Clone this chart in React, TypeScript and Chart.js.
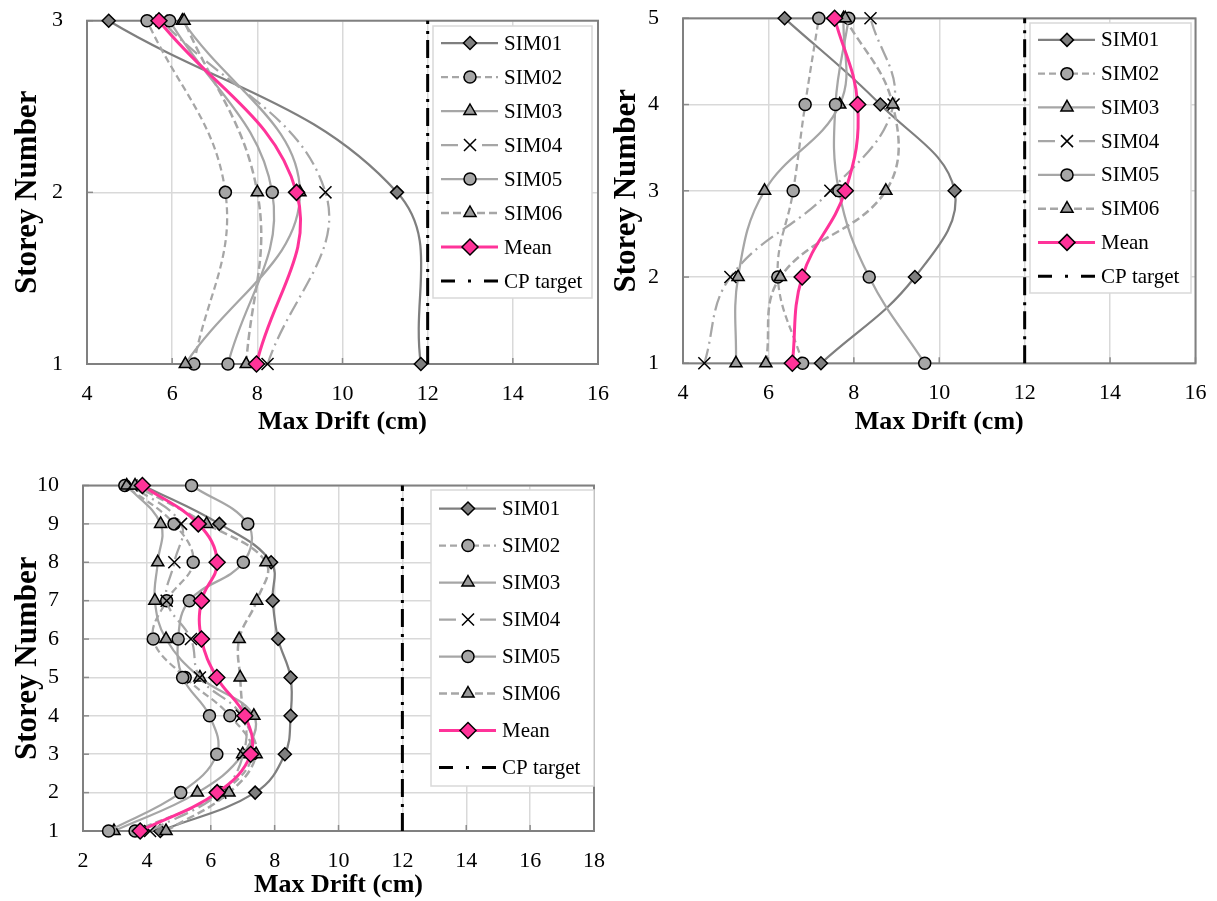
import React, { useEffect, useRef } from 'react';
import { Chart, registerables } from 'chart.js';

Chart.register(...registerables);

// ---------- shared labels ----------
const SERIES_NAMES = ['SIM01', 'SIM02', 'SIM03', 'SIM04', 'SIM05', 'SIM06', 'Mean', 'CP target'];
const X_TITLE = 'Max Drift (cm)';
const Y_TITLE = 'Storey Number';
const CP_TARGET = 12;

// ---------- panel 1 : 3 storeys ----------
const p1Storeys = [1, 2, 3];
const p1XRange = [4, 16];
const p1Sim01 = [11.84, 11.28, 4.51];
const p1Sim02 = [6.51, 7.25, 5.41];
const p1Sim03 = [6.31, 9.0, 6.24];
const p1Sim04 = [8.24, 9.6, 5.75];
const p1Sim05 = [7.31, 8.35, 5.94];
const p1Sim06 = [7.74, 8.0, 6.28];
const p1Mean = [7.98, 8.92, 5.69];

// ---------- panel 2 : 5 storeys ----------
const p2Storeys = [1, 2, 3, 4, 5];
const p2XRange = [4, 16];
const p2Sim01 = [7.23, 9.43, 10.36, 8.62, 6.38];
const p2Sim02 = [6.8, 6.22, 6.58, 6.86, 7.18];
const p2Sim03 = [5.24, 5.29, 5.91, 7.67, 7.76];
const p2Sim04 = [4.5, 5.11, 7.45, 8.93, 8.39];
const p2Sim05 = [9.66, 8.36, 7.65, 7.57, 7.88];
const p2Sim06 = [5.94, 6.28, 8.75, 8.91, 7.8];
const p2Mean = [6.56, 6.79, 7.8, 8.09, 7.55];

// ---------- panel 3 : 10 storeys ----------
const p3Storeys = [1, 2, 3, 4, 5, 6, 7, 8, 9, 10];
const p3XRange = [2, 18];
const p3Sim01 = [4.42, 7.39, 8.32, 8.5, 8.5, 8.11, 7.94, 7.89, 6.27, 3.88];
const p3Sim02 = [3.63, 6.3, 7.3, 6.6, 5.2, 4.2, 4.62, 5.45, 4.85, 3.31];
const p3Sim03 = [2.97, 5.58, 7.0, 7.35, 5.66, 4.6, 4.25, 4.34, 4.43, 3.37];
const p3Sim04 = [4.1, 6.3, 7.02, 6.97, 5.66, 5.38, 4.62, 4.86, 5.07, 3.52];
const p3Sim05 = [2.8, 5.06, 6.19, 5.96, 5.12, 4.98, 5.33, 7.02, 7.16, 5.4];
const p3Sim06 = [4.6, 6.57, 7.42, 7.05, 6.92, 6.89, 7.44, 7.73, 5.87, 3.63];
const p3Mean = [3.79, 6.2, 7.25, 7.07, 6.19, 5.71, 5.71, 6.2, 5.61, 3.86];

// ---------- styles ----------
const FONT = '"Liberation Serif", "Times New Roman", Times, serif';
const TENSION = 0.4;

type Style = {
  color: string;
  width: number;
  dash: number[];
  legendDash?: number[];
  point: string | false;
  radius: number;
  fill: string;
};

const STYLES: Style[] = [
  { color: '#7f7f7f', width: 2.25, dash: [], point: 'rectRot', radius: 6.5, fill: '#7f7f7f' },
  { color: '#a6a6a6', width: 2.25, dash: [7, 4], point: 'circle', radius: 6, fill: '#a6a6a6' },
  { color: '#a6a6a6', width: 2.25, dash: [], point: 'triangle', radius: 7, fill: '#9a9a9a' },
  { color: '#a6a6a6', width: 2.25, dash: [15, 5, 2, 5], legendDash: [17, 24, 17], point: 'crossRot', radius: 8.5, fill: '#000' },
  { color: '#a6a6a6', width: 2.25, dash: [], point: 'circle', radius: 6, fill: '#a6a6a6' },
  { color: '#a6a6a6', width: 2.5, dash: [8, 4], point: 'triangle', radius: 7, fill: '#9a9a9a' },
  { color: '#ff3399', width: 3, dash: [], point: 'rectRot', radius: 8, fill: '#ff3399' },
  { color: '#000000', width: 3, dash: [18, 6, 3, 7], legendDash: [14, 13, 3, 13, 14], point: false, radius: 0, fill: '#000' },
];

type Panel = {
  left: number; top: number; w: number; h: number;
  padTop: number; padRight: number; yAxisW: number; xAxisH: number;
  xTitlePad: number; yTitlePad: number;
  legend: { x: number; y: number; w: number; h: number };
  storeys: number[];
  xRange: number[];
  series: number[][];
};

const PANELS: Panel[] = [
  {
    left: 0, top: 0, w: 612, h: 445,
    padTop: 20.7, padRight: 14, yAxisW: 87, xAxisH: 81, xTitlePad: 7, yTitlePad: 9.5,
    legend: { x: 433, y: 26, w: 159, h: 272 },
    storeys: p1Storeys, xRange: p1XRange,
    series: [p1Sim01, p1Sim02, p1Sim03, p1Sim04, p1Sim05, p1Sim06, p1Mean],
  },
  {
    left: 600, top: 0, w: 610, h: 445,
    padTop: 18.3, padRight: 14.5, yAxisW: 83, xAxisH: 81.7, xTitlePad: 7, yTitlePad: 8.4,
    legend: { x: 430, y: 23, w: 161, h: 270 },
    storeys: p2Storeys, xRange: p2XRange,
    series: [p2Sim01, p2Sim02, p2Sim03, p2Sim04, p2Sim05, p2Sim06, p2Mean],
  },
  {
    left: 0, top: 440, w: 612, h: 461,
    padTop: 45.5, padRight: 18, yAxisW: 83, xAxisH: 70, xTitlePad: 0, yTitlePad: 9.4,
    legend: { x: 431, y: 50, w: 163, h: 296 },
    storeys: p3Storeys, xRange: p3XRange,
    series: [p3Sim01, p3Sim02, p3Sim03, p3Sim04, p3Sim05, p3Sim06, p3Mean],
  },
];

function drawMarker(ctx: CanvasRenderingContext2D, st: Style, x: number, y: number) {
  const r = st.radius;
  ctx.save();
  ctx.setLineDash([]);
  ctx.lineWidth = 1.5;
  ctx.strokeStyle = '#000';
  ctx.fillStyle = st.fill;
  ctx.beginPath();
  if (st.point === 'rectRot') {
    ctx.moveTo(x - r, y);
    ctx.lineTo(x, y - r);
    ctx.lineTo(x + r, y);
    ctx.lineTo(x, y + r);
    ctx.closePath();
    ctx.fill();
    ctx.stroke();
  } else if (st.point === 'circle') {
    ctx.arc(x, y, r, 0, Math.PI * 2);
    ctx.fill();
    ctx.stroke();
  } else if (st.point === 'triangle') {
    ctx.moveTo(x, y - r);
    ctx.lineTo(x + 0.866 * r, y + 0.5 * r);
    ctx.lineTo(x - 0.866 * r, y + 0.5 * r);
    ctx.closePath();
    ctx.fill();
    ctx.stroke();
  } else if (st.point === 'crossRot') {
    const o = r * Math.SQRT1_2;
    ctx.moveTo(x - o, y - o);
    ctx.lineTo(x + o, y + o);
    ctx.moveTo(x + o, y - o);
    ctx.lineTo(x - o, y + o);
    ctx.stroke();
  }
  ctx.restore();
}

function makeDecorPlugin(p: Panel) {
  return {
    id: 'decor',
    beforeDatasetsDraw(chart: any) {
      const { ctx, chartArea: a, scales } = chart;
      ctx.save();
      ctx.strokeStyle = '#8c8c8c';
      ctx.lineWidth = 1.5;
      scales.x.ticks.forEach((t: any) => {
        const px = scales.x.getPixelForValue(t.value);
        ctx.beginPath();
        ctx.moveTo(px, a.bottom);
        ctx.lineTo(px, a.bottom - 6);
        ctx.stroke();
      });
      scales.y.ticks.forEach((t: any) => {
        const py = scales.y.getPixelForValue(t.value);
        ctx.beginPath();
        ctx.moveTo(a.left, py);
        ctx.lineTo(a.left + 6, py);
        ctx.stroke();
      });
      ctx.strokeStyle = '#808080';
      ctx.lineWidth = 2;
      ctx.strokeRect(a.left, a.top, a.right - a.left, a.bottom - a.top);
      ctx.restore();
    },
    afterDraw(chart: any) {
      const ctx: CanvasRenderingContext2D = chart.ctx;
      const L = p.legend;
      const n = SERIES_NAMES.length;
      const rowH = L.h / n;
      ctx.save();
      ctx.fillStyle = '#ffffff';
      ctx.fillRect(L.x, L.y, L.w, L.h);
      ctx.strokeStyle = '#d9d9d9';
      ctx.lineWidth = 1.5;
      ctx.strokeRect(L.x, L.y, L.w, L.h);
      SERIES_NAMES.forEach((name, i) => {
        const st = STYLES[i];
        const cy = L.y + rowH * (i + 0.5);
        ctx.save();
        ctx.strokeStyle = st.color;
        ctx.lineWidth = st.width;
        ctx.setLineDash(st.legendDash ?? st.dash);
        ctx.beginPath();
        ctx.moveTo(L.x + 8, cy);
        ctx.lineTo(L.x + 65, cy);
        ctx.stroke();
        ctx.restore();
        if (st.point) drawMarker(ctx, st, L.x + 37, cy);
        ctx.fillStyle = '#000';
        ctx.font = `21px ${FONT}`;
        ctx.textBaseline = 'middle';
        ctx.textAlign = 'left';
        ctx.fillText(name, L.x + 71, cy + 1);
      });
      ctx.restore();
    },
  };
}

function buildConfig(p: Panel): any {
  const datasets: any[] = p.series.map((vals, i) => {
    const st = STYLES[i];
    return {
      label: SERIES_NAMES[i],
      data: p.storeys.map((s, k) => ({ x: vals[k], y: s })),
      showLine: true,
      borderColor: st.color,
      borderWidth: st.width,
      borderDash: st.dash,
      tension: TENSION,
      pointStyle: st.point,
      pointRadius: st.radius,
      pointHoverRadius: st.radius,
      pointBackgroundColor: st.fill,
      pointBorderColor: '#000',
      pointBorderWidth: 1.5,
      clip: false,
      order: 20 - i,
    };
  });
  const last = STYLES[7];
  datasets.push({
    label: SERIES_NAMES[7],
    data: [
      { x: CP_TARGET, y: p.storeys[0] },
      { x: CP_TARGET, y: p.storeys[p.storeys.length - 1] },
    ],
    showLine: true,
    borderColor: last.color,
    borderWidth: last.width,
    borderDash: last.dash,
    pointRadius: 0,
    clip: false,
    order: 0,
  });

  const gridBase = { color: '#d9d9d9', lineWidth: 1.5, drawTicks: true, tickColor: 'rgba(0,0,0,0)' };
  return {
    type: 'scatter',
    data: { datasets },
    options: {
      responsive: false,
      animation: false,
      devicePixelRatio: 1,
      events: [],
      layout: { padding: { top: p.padTop, right: p.padRight, bottom: 0, left: 0 } },
      plugins: { legend: { display: false }, tooltip: { enabled: false } },
      scales: {
        x: {
          type: 'linear',
          position: 'bottom',
          min: p.xRange[0],
          max: p.xRange[1],
          ticks: { stepSize: 2, autoSkip: false, maxRotation: 0, color: '#000', font: { family: FONT, size: 22 }, padding: 0 },
          grid: { ...gridBase, tickLength: 17 },
          border: { display: false },
          title: {
            display: true, text: X_TITLE, color: '#000',
            font: { family: FONT, size: 26, weight: 'bold' },
            padding: { top: 0, bottom: p.xTitlePad },
          },
          afterFit: (s: any) => { s.height = p.xAxisH; },
        },
        y: {
          type: 'linear',
          position: 'left',
          min: p.storeys[0],
          max: p.storeys[p.storeys.length - 1],
          ticks: { stepSize: 1, autoSkip: false, color: '#000', font: { family: FONT, size: 22 }, padding: 0 },
          grid: { ...gridBase, tickLength: 24 },
          border: { display: false },
          title: {
            display: true, text: Y_TITLE, color: '#000',
            font: { family: FONT, size: 31, weight: 'bold' },
            padding: { top: p.yTitlePad, bottom: 0 },
          },
          afterFit: (s: any) => { s.width = p.yAxisW; },
        },
      },
    },
    plugins: [makeDecorPlugin(p)],
  };
}

function PanelChart({ p }: { p: Panel }) {
  const ref = useRef<HTMLCanvasElement>(null);
  useEffect(() => {
    const chart = new Chart(ref.current as HTMLCanvasElement, buildConfig(p));
    return () => chart.destroy();
  }, [p]);
  return (
    <canvas
      ref={ref}
      width={p.w}
      height={p.h}
      style={{ position: 'absolute', left: p.left, top: p.top, width: p.w, height: p.h }}
    />
  );
}

export default function App() {
  return (
    <div style={{ position: 'absolute', left: 0, top: 0, width: 1217, height: 901, background: '#fff' }}>
      {PANELS.map((p, i) => (
        <PanelChart key={i} p={p} />
      ))}
    </div>
  );
}
